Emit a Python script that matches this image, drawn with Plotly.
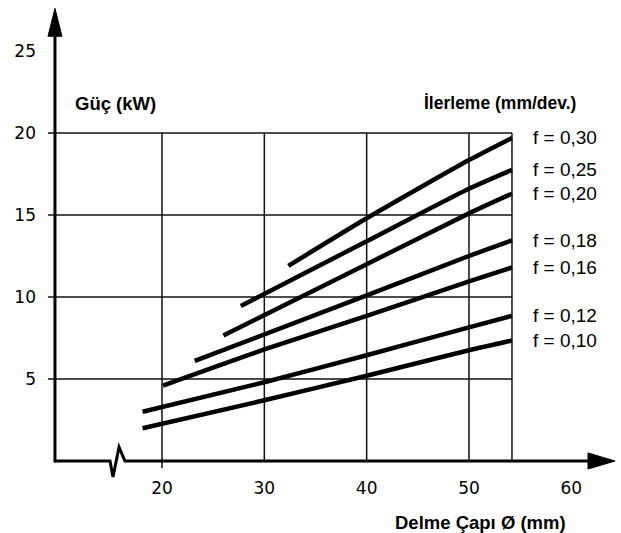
import plotly.graph_objects as go

# ---- data ----
feed_labels = ["f = 0,30", "f = 0,25", "f = 0,20", "f = 0,18", "f = 0,16", "f = 0,12", "f = 0,10"]
x_030 = [32.35, 40, 50, 54.2]
y_030 = [11.9, 14.8, 18.35, 19.7]
x_025 = [27.7, 40, 50, 54.2]
y_025 = [9.45, 13.4, 16.6, 17.75]
x_020 = [26.0, 40, 50, 54.2]
y_020 = [7.65, 12.0, 15.1, 16.3]
x_018 = [23.2, 40, 50, 54.2]
y_018 = [6.1, 10.1, 12.5, 13.45]
x_016 = [20.1, 30, 40, 50, 54.2]
y_016 = [4.6, 6.8, 8.85, 10.95, 11.8]
x_012 = [18.1, 30, 40, 50, 54.2]
y_012 = [3.0, 4.8, 6.45, 8.15, 8.85]
x_010 = [18.1, 30, 40, 50, 54.2]
y_010 = [2.0, 3.7, 5.2, 6.75, 7.35]

series_x = [x_030, x_025, x_020, x_018, x_016, x_012, x_010]
series_y = [y_030, y_025, y_020, y_018, y_016, y_012, y_010]

x_ticks = [20, 30, 40, 50, 60]
y_ticks = [5, 10, 15, 20, 25]
grid_x = [20, 30, 40, 50, 54.2]
grid_y = [5, 10, 15, 20]

y_title = "Güç (kW)"
legend_title = "İlerleme (mm/dev.)"
x_title = "Delme Çapı Ø (mm)"

# ---- figure ----
fig = go.Figure()
for xs, ys, name in zip(series_x, series_y, feed_labels):
    fig.add_trace(go.Scatter(x=xs, y=ys, mode="lines", name=name,
                             line=dict(color="black", width=4.5, shape="spline", smoothing=0.6),
                             hoverinfo="skip", showlegend=False))

shapes = []
AX_X = 9.54  # position of drawn y axis
for gy in grid_y:
    shapes.append(dict(type="line", xref="x", yref="y", x0=8.86, x1=grid_x[-1], y0=gy, y1=gy,
                       line=dict(color="#111", width=1.5), layer="below"))
for gx in grid_x:
    shapes.append(dict(type="line", xref="x", yref="y", x0=gx, x1=gx,
                       y0=-0.45 if gx == 20 else 0, y1=20,
                       line=dict(color="#111", width=1.5), layer="below"))
shapes.append(dict(type="line", xref="x", yref="y", x0=AX_X, x1=AX_X, y0=-0.09, y1=26.2,
                   line=dict(color="black", width=3)))
shapes.append(dict(type="path", xref="x", yref="y",
                   path=f"M {AX_X-0.68},25.9 L {AX_X},27.6 L {AX_X+0.68},25.9 Z",
                   fillcolor="black", line=dict(color="black", width=1)))
shapes.append(dict(type="path", xref="x", yref="y",
                   path=f"M {AX_X},0 L 14.92,0 L 15.21,-0.98 L 15.8,0.85 L 16.38,0 L 62.0,0",
                   fillcolor="rgba(0,0,0,0)", line=dict(color="black", width=3)))
shapes.append(dict(type="path", xref="x", yref="y",
                   path="M 61.63,-0.49 L 64.27,0 L 61.63,0.49 Z",
                   fillcolor="black", line=dict(color="black", width=1)))

label_font = dict(family="Liberation Sans, Arial, sans-serif", size=19, color="black")
annotations = []
for xs, ys, name in zip(series_x, series_y, feed_labels):
    annotations.append(dict(x=xs[-1], y=ys[-1], xref="x", yref="y", text=name, showarrow=False,
                            xanchor="left", yanchor="middle", xshift=19, font=label_font))
bold = dict(family="Liberation Sans, Arial, sans-serif", size=18.5, color="black")
annotations.append(dict(x=0.0486, y=0.7845, xref="paper", yref="paper", text=f"<b>{y_title}</b>",
                        showarrow=False, xanchor="left", yanchor="middle", font=bold))
annotations.append(dict(x=0.6545, y=0.7845, xref="paper", yref="paper", text=f"<b>{legend_title}</b>",
                        showarrow=False, xanchor="left", yanchor="middle",
                        font=dict(family="Liberation Sans, Arial, sans-serif", size=17.5, color="black")))
annotations.append(dict(x=0.604, y=-0.094, xref="paper", yref="paper", text=f"<b>{x_title}</b>",
                        showarrow=False, xanchor="left", yanchor="middle", font=bold))

tickfont = dict(family="DejaVu Sans, sans-serif", size=17, color="black")
fig.update_layout(
    width=621, height=533,
    margin=dict(l=45, r=0, t=0, b=55, autoexpand=False),
    paper_bgcolor="white", plot_bgcolor="white",
    shapes=shapes, annotations=annotations,
    xaxis=dict(range=[8.566, 64.855], tickvals=x_ticks, ticktext=[str(v) for v in x_ticks],
               showgrid=False, zeroline=False, showline=False, ticks="", tickfont=tickfont,
               ticklabelstandoff=-2, automargin=False),
    yaxis=dict(range=[-1.037, 28.11], tickvals=y_ticks, ticktext=[str(v) for v in y_ticks],
               showgrid=False, zeroline=False, showline=False, ticks="", tickfont=tickfont,
               ticklabelstandoff=8, automargin=False),
)
fig.write_html("out.html", config={"displayModeBar": False},
               post_script="document.body.style.margin='0';")
